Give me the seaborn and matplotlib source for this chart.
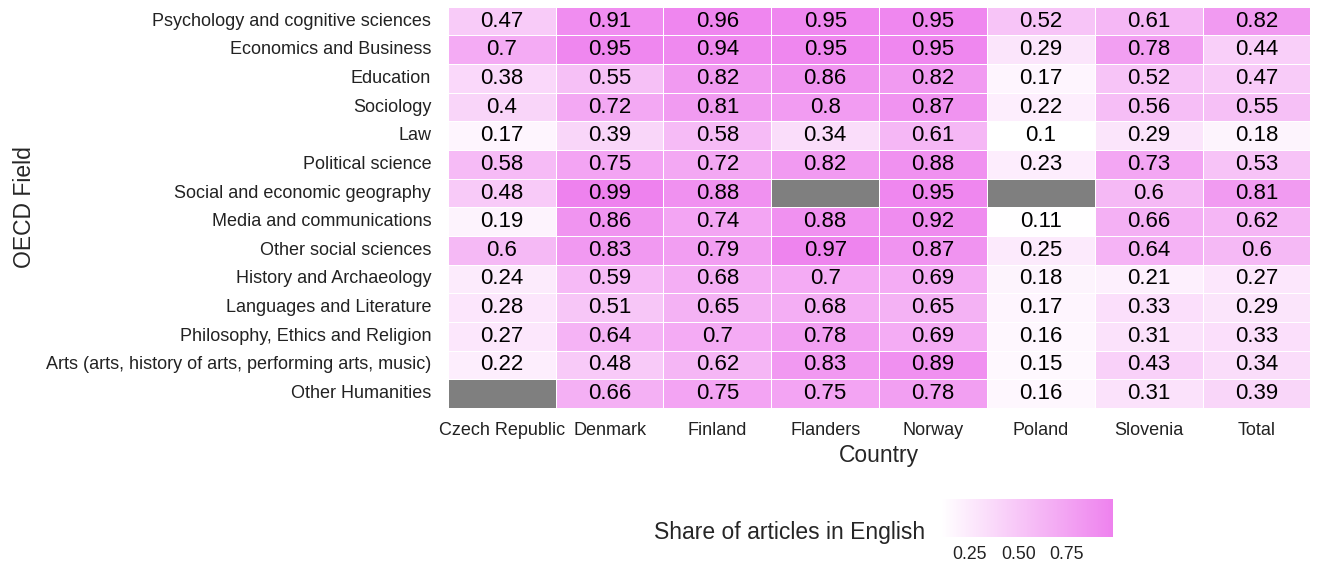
import numpy as np
import pandas as pd
import seaborn as sns
import matplotlib.pyplot as plt
from matplotlib.colors import LinearSegmentedColormap

sns.set_theme(style="white")
plt.rcParams['font.family'] = ['Liberation Sans', 'DejaVu Sans']

# data (NaN = no data, drawn grey)
countries = ["Czech Republic", "Denmark", "Finland", "Flanders", "Norway", "Poland", "Slovenia", "Total"]
fields = ["Psychology and cognitive sciences", "Economics and Business", "Education", "Sociology",
          "Law", "Political science", "Social and economic geography", "Media and communications",
          "Other social sciences", "History and Archaeology", "Languages and Literature",
          "Philosophy, Ethics and Religion", "Arts (arts, history of arts, performing arts, music)",
          "Other Humanities"]
psychology = [0.47, 0.91, 0.96, 0.95, 0.95, 0.52, 0.61, 0.82]
economics = [0.7, 0.95, 0.94, 0.95, 0.95, 0.29, 0.78, 0.44]
education = [0.38, 0.55, 0.82, 0.86, 0.82, 0.17, 0.52, 0.47]
sociology = [0.4, 0.72, 0.81, 0.8, 0.87, 0.22, 0.56, 0.55]
law = [0.17, 0.39, 0.58, 0.34, 0.61, 0.1, 0.29, 0.18]
political = [0.58, 0.75, 0.72, 0.82, 0.88, 0.23, 0.73, 0.53]
geography = [0.48, 0.99, 0.88, np.nan, 0.95, np.nan, 0.6, 0.81]
media = [0.19, 0.86, 0.74, 0.88, 0.92, 0.11, 0.66, 0.62]
other_social = [0.6, 0.83, 0.79, 0.97, 0.87, 0.25, 0.64, 0.6]
history = [0.24, 0.59, 0.68, 0.7, 0.69, 0.18, 0.21, 0.27]
languages = [0.28, 0.51, 0.65, 0.68, 0.65, 0.17, 0.33, 0.29]
philosophy = [0.27, 0.64, 0.7, 0.78, 0.69, 0.16, 0.31, 0.33]
arts = [0.22, 0.48, 0.62, 0.83, 0.89, 0.15, 0.43, 0.34]
other_hum = [np.nan, 0.66, 0.75, 0.75, 0.78, 0.16, 0.31, 0.39]

share = pd.DataFrame([psychology, economics, education, sociology, law, political, geography,
                      media, other_social, history, languages, philosophy, arts, other_hum],
                     index=fields, columns=countries)

cmap = LinearSegmentedColormap.from_list("wv", ["white", "#EE82EE"])

fig = plt.figure(figsize=(13.25, 5.65), dpi=100)
ax = fig.add_axes([0.338, 0.278, 0.651, 0.710])
cax = fig.add_axes([0.710, 0.050, 0.130, 0.066])
ax.set_facecolor("#7F7F7F")

sns.heatmap(share, ax=ax, cmap=cmap, vmin=0.1, vmax=0.99, annot=True, fmt="g",
            annot_kws={"size": 16, "color": "black"}, linewidths=0.6, linecolor="white",
            cbar_ax=cax, cbar_kws={"orientation": "horizontal", "ticks": [0.25, 0.5, 0.75]})

ax.tick_params(axis="both", labelsize=13, length=4, color="#DDDDDD", labelcolor="#222222")
ax.tick_params(axis="y", pad=8)
ax.tick_params(axis="x", pad=6)
ax.set_yticklabels(fields, rotation=0)
ax.set_xticklabels(countries, rotation=0)
ax.set_xlabel("Country", fontsize=16.5, labelpad=4)
ax.set_ylabel("OECD Field", fontsize=16.5)
ax.yaxis.set_label_coords(-0.478, 0.5, transform=ax.transAxes)

cb = ax.collections[0].colorbar
cb.outline.set_visible(False)
cax.set_xticklabels(["0.25", "0.50", "0.75"])
cax.tick_params(axis="x", direction="in", length=7, color="white", width=0.8,
                labelsize=12.7, pad=7, top=True, bottom=True, labelcolor="#222222")
fig.text(0.698, 0.057, "Share of articles in English", ha="right", va="center", fontsize=16.5)

fig.savefig("out.png", dpi=100)
